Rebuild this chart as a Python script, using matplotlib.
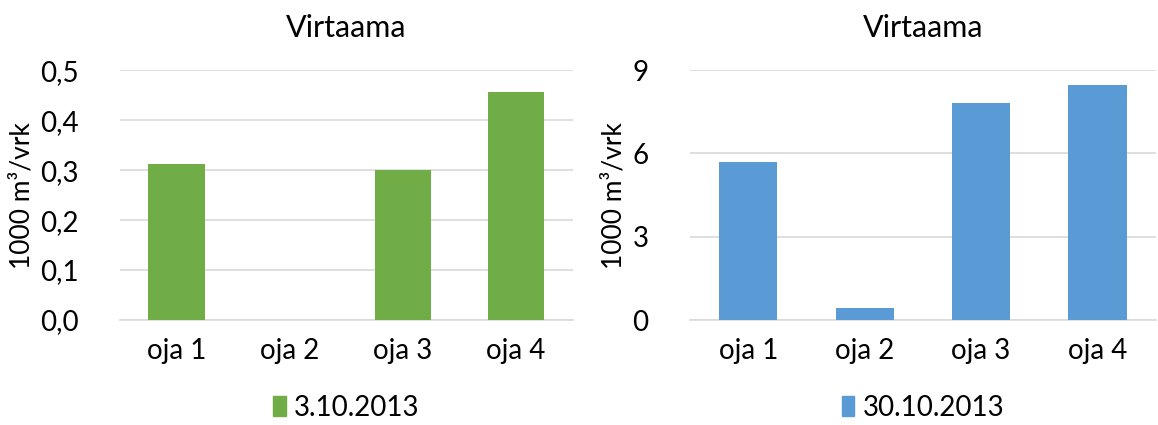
import matplotlib
matplotlib.use('Agg')
import matplotlib.pyplot as plt
from matplotlib.patches import Patch

plt.rcParams['font.family'] = ['Lato', 'DejaVu Sans']

# Data
categories = ['oja 1', 'oja 2', 'oja 3', 'oja 4']
values_oct3 = [0.313, 0.0, 0.301, 0.457]
values_oct30 = [5.69, 0.42, 7.83, 8.48]
ticks_left = [0.0, 0.1, 0.2, 0.3, 0.4, 0.5]
ticks_right = [0, 3, 6, 9]
series_left = '3.10.2013'
series_right = '30.10.2013'

green = '#70AD47'
blue = '#5B9BD5'
grid = '#D9D9D9'

fig = plt.figure(figsize=(11.58, 4.25), dpi=100)
ax1 = fig.add_axes([0.1036, 0.247, 0.391, 0.588])
ax2 = fig.add_axes([0.596, 0.247, 0.402, 0.588])


def style(ax, ticks, labels, color, vals, legend_label):
    x = range(len(categories))
    ax.bar(x, vals, width=0.5, color=color, zorder=3)
    ax.set_xlim(-0.5, len(categories) - 0.5)
    ax.set_ylim(ticks[0], ticks[-1])
    ax.set_yticks(ticks)
    ax.set_yticklabels(labels)
    ax.set_xticks(list(x))
    ax.set_xticklabels(categories)
    ax.yaxis.grid(True, color=grid, linewidth=1.2, zorder=0)
    for s in ['top', 'right', 'left']:
        ax.spines[s].set_visible(False)
    ax.spines['bottom'].set_color(grid)
    ax.spines['bottom'].set_linewidth(1.2)
    ax.tick_params(length=0, labelsize=20, colors='#000000')
    ax.tick_params(axis='x', pad=13)
    ax.tick_params(axis='y', pad=30)
    ax.set_title('Virtaama', fontsize=22, pad=24)
    ax.set_ylabel('1000 m³/vrk', fontsize=19, labelpad=4)
    ax.legend(handles=[Patch(color=color, label=legend_label)],
              loc='upper center', bbox_to_anchor=(0.5, -0.2),
              frameon=False, fontsize=20, handlelength=0.45,
              handleheight=0.75, handletextpad=0.3)


style(ax1, ticks_left, [f'{t:.1f}'.replace('.', ',') for t in ticks_left],
      green, values_oct3, series_left)
style(ax2, ticks_right, [str(t) for t in ticks_right],
      blue, values_oct30, series_right)

fig.savefig('out.png', dpi=100)
